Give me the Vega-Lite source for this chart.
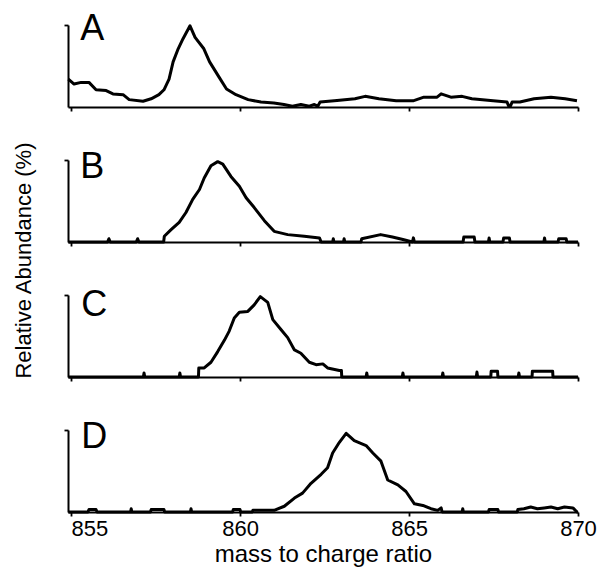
{
  "$schema": "https://vega.github.io/schema/vega-lite/v6.json",
  "padding": {"left": 12, "top": 10, "right": 5, "bottom": 3},
  "bounds": "flush",
  "spacing": 53,
  "config": {
    "view": {"stroke": null},
    "font": "Liberation Sans",
    "axis": {
      "grid": false,
      "domainColor": "black",
      "tickColor": "black",
      "domainWidth": 2,
      "tickWidth": 1.8,
      "tickSize": 4,
      "labelColor": "black",
      "titleColor": "black",
      "titleFontWeight": "normal",
      "labelFont": "Liberation Sans",
      "titleFont": "Liberation Sans"
    },
    "line": {"color": "black", "strokeWidth": 3, "strokeJoin": "round"},
    "text": {"color": "black", "fontSize": 36, "align": "left", "baseline": "alphabetic", "font": "Liberation Sans"}
  },
  "datasets": {
    "A": [
      {"mz": 854.92, "abundance": 34}, {"mz": 855.09, "abundance": 28}, {"mz": 855.3, "abundance": 30},
      {"mz": 855.53, "abundance": 30}, {"mz": 855.74, "abundance": 21}, {"mz": 856.04, "abundance": 20},
      {"mz": 856.24, "abundance": 16}, {"mz": 856.54, "abundance": 15}, {"mz": 856.72, "abundance": 9},
      {"mz": 857.13, "abundance": 7}, {"mz": 857.37, "abundance": 10}, {"mz": 857.6, "abundance": 15},
      {"mz": 857.75, "abundance": 21}, {"mz": 857.9, "abundance": 34}, {"mz": 858.02, "abundance": 55},
      {"mz": 858.17, "abundance": 71}, {"mz": 858.31, "abundance": 83}, {"mz": 858.52, "abundance": 99},
      {"mz": 858.67, "abundance": 85}, {"mz": 858.93, "abundance": 71}, {"mz": 859.1, "abundance": 55},
      {"mz": 859.37, "abundance": 37}, {"mz": 859.6, "abundance": 22}, {"mz": 859.88, "abundance": 15},
      {"mz": 860.24, "abundance": 9}, {"mz": 860.62, "abundance": 6}, {"mz": 861.0, "abundance": 5},
      {"mz": 861.3, "abundance": 3}, {"mz": 861.55, "abundance": 1}, {"mz": 861.8, "abundance": 3},
      {"mz": 862.05, "abundance": 1}, {"mz": 862.2, "abundance": 3}, {"mz": 862.3, "abundance": 1},
      {"mz": 862.37, "abundance": 6}, {"mz": 862.87, "abundance": 8}, {"mz": 863.4, "abundance": 10},
      {"mz": 863.7, "abundance": 13}, {"mz": 864.11, "abundance": 10}, {"mz": 864.62, "abundance": 7.5},
      {"mz": 865.12, "abundance": 7.5}, {"mz": 865.44, "abundance": 12}, {"mz": 865.83, "abundance": 12},
      {"mz": 865.95, "abundance": 16}, {"mz": 866.24, "abundance": 12}, {"mz": 866.57, "abundance": 13},
      {"mz": 866.86, "abundance": 10}, {"mz": 867.49, "abundance": 7.5}, {"mz": 867.9, "abundance": 6},
      {"mz": 867.95, "abundance": 1}, {"mz": 868.0, "abundance": 1}, {"mz": 868.05, "abundance": 6},
      {"mz": 868.28, "abundance": 6}, {"mz": 868.7, "abundance": 10}, {"mz": 869.2, "abundance": 12},
      {"mz": 869.62, "abundance": 10}, {"mz": 869.97, "abundance": 7.5}
    ],
    "B": [
      {"mz": 854.92, "abundance": 0}, {"mz": 856.08, "abundance": 0}, {"mz": 856.12, "abundance": 4},
      {"mz": 856.16, "abundance": 0}, {"mz": 856.93, "abundance": 0}, {"mz": 856.97, "abundance": 4},
      {"mz": 857.01, "abundance": 0}, {"mz": 857.74, "abundance": 0}, {"mz": 857.76, "abundance": 7},
      {"mz": 857.96, "abundance": 15}, {"mz": 858.2, "abundance": 24}, {"mz": 858.4, "abundance": 36},
      {"mz": 858.6, "abundance": 52}, {"mz": 858.8, "abundance": 64}, {"mz": 858.94, "abundance": 78},
      {"mz": 859.14, "abundance": 93}, {"mz": 859.34, "abundance": 98}, {"mz": 859.49, "abundance": 95},
      {"mz": 859.73, "abundance": 80}, {"mz": 859.98, "abundance": 68}, {"mz": 860.18, "abundance": 54},
      {"mz": 860.42, "abundance": 42}, {"mz": 860.72, "abundance": 26}, {"mz": 861.01, "abundance": 13},
      {"mz": 861.41, "abundance": 9}, {"mz": 861.9, "abundance": 7}, {"mz": 862.35, "abundance": 5},
      {"mz": 862.4, "abundance": 0}, {"mz": 862.74, "abundance": 0}, {"mz": 862.76, "abundance": 4},
      {"mz": 862.78, "abundance": 0}, {"mz": 863.06, "abundance": 0}, {"mz": 863.08, "abundance": 4},
      {"mz": 863.1, "abundance": 0}, {"mz": 863.58, "abundance": 0}, {"mz": 863.6, "abundance": 4},
      {"mz": 864.16, "abundance": 9}, {"mz": 864.51, "abundance": 6}, {"mz": 864.82, "abundance": 3},
      {"mz": 865.1, "abundance": 0}, {"mz": 865.13, "abundance": 5}, {"mz": 865.16, "abundance": 0},
      {"mz": 866.6, "abundance": 0}, {"mz": 866.62, "abundance": 6}, {"mz": 866.93, "abundance": 6},
      {"mz": 866.95, "abundance": 0}, {"mz": 867.35, "abundance": 0}, {"mz": 867.37, "abundance": 5},
      {"mz": 867.39, "abundance": 0}, {"mz": 867.78, "abundance": 0}, {"mz": 867.8, "abundance": 5},
      {"mz": 867.97, "abundance": 5}, {"mz": 867.99, "abundance": 0}, {"mz": 868.99, "abundance": 0},
      {"mz": 869.01, "abundance": 5}, {"mz": 869.03, "abundance": 0}, {"mz": 869.41, "abundance": 0},
      {"mz": 869.43, "abundance": 4}, {"mz": 869.65, "abundance": 4}, {"mz": 869.67, "abundance": 0},
      {"mz": 870, "abundance": 0}
    ],
    "C": [
      {"mz": 854.92, "abundance": 0}, {"mz": 857.14, "abundance": 0}, {"mz": 857.16, "abundance": 5},
      {"mz": 857.18, "abundance": 0}, {"mz": 858.2, "abundance": 0}, {"mz": 858.22, "abundance": 5},
      {"mz": 858.24, "abundance": 0}, {"mz": 858.77, "abundance": 0}, {"mz": 858.78, "abundance": 11},
      {"mz": 858.94, "abundance": 11}, {"mz": 859.14, "abundance": 18}, {"mz": 859.34, "abundance": 31},
      {"mz": 859.54, "abundance": 45}, {"mz": 859.68, "abundance": 56}, {"mz": 859.83, "abundance": 72},
      {"mz": 859.98, "abundance": 79}, {"mz": 860.23, "abundance": 80}, {"mz": 860.42, "abundance": 88},
      {"mz": 860.6, "abundance": 98}, {"mz": 860.82, "abundance": 91}, {"mz": 860.97, "abundance": 70},
      {"mz": 861.21, "abundance": 58}, {"mz": 861.41, "abundance": 48}, {"mz": 861.61, "abundance": 33},
      {"mz": 861.8, "abundance": 29}, {"mz": 862.05, "abundance": 18}, {"mz": 862.25, "abundance": 15},
      {"mz": 862.45, "abundance": 16}, {"mz": 862.59, "abundance": 11}, {"mz": 862.94, "abundance": 8},
      {"mz": 863.0, "abundance": 8}, {"mz": 863.01, "abundance": 0}, {"mz": 863.73, "abundance": 0},
      {"mz": 863.75, "abundance": 5}, {"mz": 863.77, "abundance": 0}, {"mz": 864.8, "abundance": 0},
      {"mz": 864.82, "abundance": 5}, {"mz": 864.84, "abundance": 0}, {"mz": 865.98, "abundance": 0},
      {"mz": 866.0, "abundance": 5}, {"mz": 866.02, "abundance": 0}, {"mz": 866.99, "abundance": 0},
      {"mz": 867.01, "abundance": 6}, {"mz": 867.03, "abundance": 0}, {"mz": 867.42, "abundance": 0},
      {"mz": 867.43, "abundance": 7}, {"mz": 867.62, "abundance": 7}, {"mz": 867.63, "abundance": 0},
      {"mz": 868.23, "abundance": 0}, {"mz": 868.25, "abundance": 5}, {"mz": 868.27, "abundance": 0},
      {"mz": 868.64, "abundance": 0}, {"mz": 868.65, "abundance": 7}, {"mz": 869.25, "abundance": 7},
      {"mz": 869.26, "abundance": 0}, {"mz": 870, "abundance": 0}
    ],
    "D": [
      {"mz": 854.92, "abundance": 0}, {"mz": 855.5, "abundance": 0}, {"mz": 855.53, "abundance": 3},
      {"mz": 855.74, "abundance": 3}, {"mz": 855.77, "abundance": 0}, {"mz": 856.76, "abundance": 0},
      {"mz": 856.78, "abundance": 4}, {"mz": 856.8, "abundance": 0}, {"mz": 857.35, "abundance": 0},
      {"mz": 857.37, "abundance": 3}, {"mz": 857.75, "abundance": 3}, {"mz": 857.77, "abundance": 0},
      {"mz": 858.53, "abundance": 0}, {"mz": 858.55, "abundance": 4}, {"mz": 858.57, "abundance": 0},
      {"mz": 859.78, "abundance": 0}, {"mz": 859.8, "abundance": 3}, {"mz": 860.0, "abundance": 3},
      {"mz": 860.02, "abundance": 0}, {"mz": 860.36, "abundance": 0}, {"mz": 860.38, "abundance": 2},
      {"mz": 861.01, "abundance": 2}, {"mz": 861.31, "abundance": 7}, {"mz": 861.61, "abundance": 17},
      {"mz": 861.85, "abundance": 23}, {"mz": 862.1, "abundance": 35}, {"mz": 862.4, "abundance": 46},
      {"mz": 862.59, "abundance": 54}, {"mz": 862.74, "abundance": 72}, {"mz": 862.94, "abundance": 85},
      {"mz": 863.14, "abundance": 96}, {"mz": 863.38, "abundance": 87}, {"mz": 863.73, "abundance": 81},
      {"mz": 863.93, "abundance": 72}, {"mz": 864.17, "abundance": 62}, {"mz": 864.37, "abundance": 39},
      {"mz": 864.67, "abundance": 33}, {"mz": 864.91, "abundance": 25}, {"mz": 865.16, "abundance": 10},
      {"mz": 865.41, "abundance": 8}, {"mz": 865.65, "abundance": 4}, {"mz": 865.85, "abundance": 2},
      {"mz": 865.95, "abundance": 5}, {"mz": 865.98, "abundance": 0}, {"mz": 866.57, "abundance": 0},
      {"mz": 866.59, "abundance": 4}, {"mz": 866.61, "abundance": 0}, {"mz": 867.35, "abundance": 0},
      {"mz": 867.37, "abundance": 3}, {"mz": 867.63, "abundance": 3}, {"mz": 867.65, "abundance": 0},
      {"mz": 868.2, "abundance": 0}, {"mz": 868.22, "abundance": 3}, {"mz": 868.4, "abundance": 4},
      {"mz": 868.6, "abundance": 6}, {"mz": 868.8, "abundance": 4}, {"mz": 869.0, "abundance": 5},
      {"mz": 869.2, "abundance": 6}, {"mz": 869.4, "abundance": 4}, {"mz": 869.6, "abundance": 6},
      {"mz": 869.85, "abundance": 5}, {"mz": 869.97, "abundance": 0}, {"mz": 870, "abundance": 0}
    ]
  },
  "vconcat": [
    {
      "width": 510, "height": 82,
      "layer": [
        {
          "data": {"name": "A"},
          "mark": {"type": "line"},
          "encoding": {
            "x": {"field": "mz", "type": "quantitative", "scale": {"domain": [854.91, 870], "nice": false, "zero": false},
                  "axis": {"values": [855, 860, 865, 870], "labels": false, "title": null}},
            "y": {"field": "abundance", "type": "quantitative", "scale": {"domain": [0, 100], "nice": false},
                  "axis": {"values": [100], "labels": false, "title": null}}
          }
        },
        {
          "data": {"values": [{"label": "A"}]},
          "mark": {"type": "text"},
          "encoding": {
            "x": {"datum": 855.27, "type": "quantitative"},
            "y": {"datum": 82, "type": "quantitative"},
            "text": {"field": "label"}
          }
        }
      ]
    },
    {
      "width": 510, "height": 82,
      "layer": [
        {
          "data": {"name": "B"},
          "mark": {"type": "line"},
          "encoding": {
            "x": {"field": "mz", "type": "quantitative", "scale": {"domain": [854.91, 870], "nice": false, "zero": false},
                  "axis": {"values": [855, 860, 865, 870], "labels": false, "title": null}},
            "y": {"field": "abundance", "type": "quantitative", "scale": {"domain": [0, 100], "nice": false},
                  "axis": {"values": [100], "labels": false, "title": "Relative Abundance (%)", "titleFontSize": 22, "titleY": 100, "titlePadding": 28}}
          }
        },
        {
          "data": {"values": [{"label": "B"}]},
          "mark": {"type": "text"},
          "encoding": {
            "x": {"datum": 855.27, "type": "quantitative"},
            "y": {"datum": 78, "type": "quantitative"},
            "text": {"field": "label"}
          }
        }
      ]
    },
    {
      "width": 510, "height": 82,
      "layer": [
        {
          "data": {"name": "C"},
          "mark": {"type": "line"},
          "encoding": {
            "x": {"field": "mz", "type": "quantitative", "scale": {"domain": [854.91, 870], "nice": false, "zero": false},
                  "axis": {"values": [855, 860, 865, 870], "labels": false, "title": null}},
            "y": {"field": "abundance", "type": "quantitative", "scale": {"domain": [0, 100], "nice": false},
                  "axis": {"values": [100], "labels": false, "title": null}}
          }
        },
        {
          "data": {"values": [{"label": "C"}]},
          "mark": {"type": "text"},
          "encoding": {
            "x": {"datum": 855.3, "type": "quantitative"},
            "y": {"datum": 75, "type": "quantitative"},
            "text": {"field": "label"}
          }
        }
      ]
    },
    {
      "width": 510, "height": 82,
      "layer": [
        {
          "data": {"name": "D"},
          "mark": {"type": "line"},
          "encoding": {
            "x": {"field": "mz", "type": "quantitative", "scale": {"domain": [854.91, 870], "nice": false, "zero": false},
                  "axis": {"values": [855, 860, 865, 870], "format": "d", "labelFontSize": 22, "labelPadding": 2,
                           "labelAlign": {"condition": {"test": "datum.value === 855", "value": "left"}, "value": "center"},
                           "title": "mass to charge ratio", "titleFontSize": 24, "titlePadding": 3}},
            "y": {"field": "abundance", "type": "quantitative", "scale": {"domain": [0, 100], "nice": false},
                  "axis": {"values": [100], "labels": false, "title": null}}
          }
        },
        {
          "data": {"values": [{"label": "D"}]},
          "mark": {"type": "text"},
          "encoding": {
            "x": {"datum": 855.3, "type": "quantitative"},
            "y": {"datum": 78, "type": "quantitative"},
            "text": {"field": "label"}
          }
        }
      ]
    }
  ]
}
